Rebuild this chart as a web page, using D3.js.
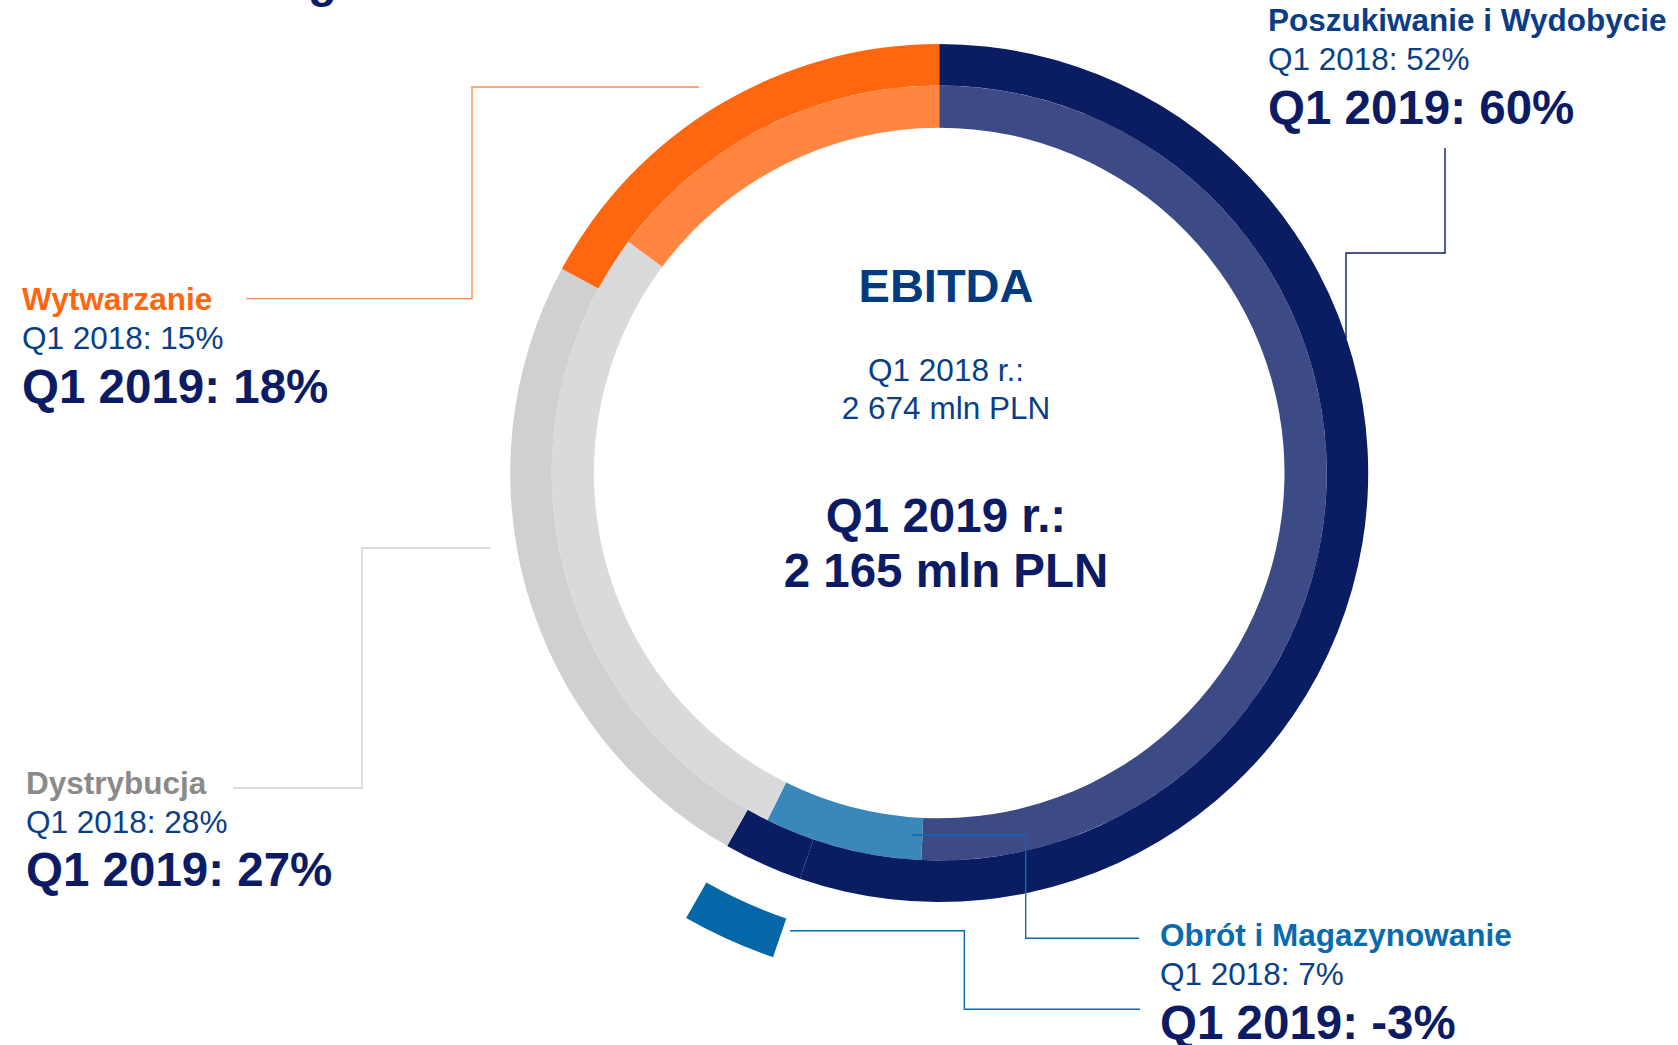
<!DOCTYPE html>
<html>
<head>
<meta charset="utf-8">
<script src="https://cdn.jsdelivr.net/npm/d3@7"></script>
<style>
    html, body { margin: 0; padding: 0; background: #fff; }
    svg { display: block; font-family: 'Liberation Sans', Arial, sans-serif; }
</style>
</head>
<body>
<div class="chart"></div>
<script>
// segment shares of EBITDA (%), clockwise from 12 o'clock; labels show them rounded
const segments = ['Poszukiwanie i Wydobycie', 'Obrót i Magazynowanie', 'Dystrybucja', 'Wytwarzanie'];
const share2018 = [51.7, 6.7, 28.4, 15.1];
const share2019 = [59.6, -3.2, 26.6, 18.45];
const ebitda2018 = '2 674';
const ebitda2019 = '2 165';

const width = 1678, height = 1045;
const cx = 939.2, cy = 473;
const outerColors = ['#0b1d62', '#0566a8', '#cfd0d2', '#ff6610'];
const innerColors = ['#3c4a85', '#3a87b9', '#d9dadc', '#ff8540'];
const titleColors = ['#0b3d84', '#0a6aae', '#8a8a8a', '#ff6610'];
const lineColors = ['#0c1c64', '#0a6aae', '#d0d0d0', '#ff8a4a'];

const svg = d3.select('div.chart').append('svg').attr('width', width).attr('height', height);

// clipped heading glyph at the very top
svg.append('text').attr('x', 308).attr('y', -3)
    .attr('font-size', 47).attr('font-weight', 'bold').attr('fill', '#0c1c64').text('g');

const pie = d3.pie().sort(null).value(d => Math.abs(d));
const ring = svg.append('g').attr('transform', `translate(${cx},${cy})`);

const innerArc = d3.arc().innerRadius(345.3).outerRadius(387.5);
const outerArc = d3.arc().innerRadius(387.5).outerRadius(429);
const pulledArc = d3.arc().innerRadius(471).outerRadius(512);

ring.selectAll('path.inner')
    .data(pie(share2018))
    .join('path')
    .classed('inner', true)
    .attr('d', innerArc)
    .attr('fill', (d, i) => innerColors[i]);

// negative slice leaves its slot in the first segment colour and is pulled outward
ring.selectAll('path.outer')
    .data(pie(share2019))
    .join('path')
    .classed('outer', true)
    .attr('d', outerArc)
    .attr('fill', (d, i) => d.data < 0 ? outerColors[0] : outerColors[i]);

ring.selectAll('path.pulled')
    .data(pie(share2019).filter(d => d.data < 0))
    .join('path')
    .classed('pulled', true)
    .attr('d', pulledArc)
    .attr('fill', d => outerColors[d.index]);

// leader lines
const leaders = [
    { c: 0, pts: [[1445, 148], [1445, 253], [1346, 253], [1346, 338]] },
    { c: 3, pts: [[699, 87], [472, 87], [472, 298.6], [246, 298.6]] },
    { c: 2, pts: [[490, 548], [362, 548], [362, 788], [233, 788]] },
    { c: 1, pts: [[911.7, 835], [1025.7, 835], [1025.7, 938.3], [1139, 938.3]] },
    { c: 1, pts: [[790, 930.7], [964.3, 930.7], [964.3, 1009.2], [1140, 1009.2]] }
];
svg.selectAll('path.leader')
    .data(leaders)
    .join('path')
    .classed('leader', true)
    .attr('d', d => d3.line()(d.pts))
    .attr('fill', 'none')
    .attr('stroke', d => lineColors[d.c])
    .attr('stroke-width', 1.4);

// segment labels
const labelPos = [
    { x: 1268, y: 31 },
    { x: 1160, y: 946 },
    { x: 26, y: 793.5 },
    { x: 22, y: 310 }
];
const fmt = v => `${Math.round(v)}%`;
segments.forEach((name, i) => {
    const g = svg.append('g').attr('transform', `translate(${labelPos[i].x},${labelPos[i].y})`);
    g.append('text').attr('font-size', 31.5).attr('font-weight', 'bold')
        .attr('fill', titleColors[i]).text(name);
    g.append('text').attr('y', 39).attr('font-size', 31.5)
        .attr('fill', '#0a3f86').text(`Q1 2018: ${fmt(share2018[i])}`);
    g.append('text').attr('y', 92.5).attr('font-size', 47.5).attr('font-weight', 'bold')
        .attr('fill', '#0c1c64').text(`Q1 2019: ${fmt(share2019[i])}`);
});

// centre texts
const centre = svg.append('g').attr('text-anchor', 'middle').attr('transform', 'translate(946,0)');
centre.append('text').attr('y', 301.7).attr('font-size', 47).attr('font-weight', 'bold')
    .attr('fill', '#003b80').text('EBITDA');
centre.append('text').attr('y', 380.7).attr('font-size', 31.5).attr('fill', '#0a3f86').text('Q1 2018 r.:');
centre.append('text').attr('y', 419.3).attr('font-size', 31.5).attr('fill', '#0a3f86').text(`${ebitda2018} mln PLN`);
centre.append('text').attr('y', 531.7).attr('font-size', 47.5).attr('font-weight', 'bold')
    .attr('fill', '#0c1c64').text('Q1 2019 r.:');
centre.append('text').attr('y', 586.7).attr('font-size', 47.5).attr('font-weight', 'bold')
    .attr('fill', '#0c1c64').text(`${ebitda2019} mln PLN`);
</script>
</body>
</html>
